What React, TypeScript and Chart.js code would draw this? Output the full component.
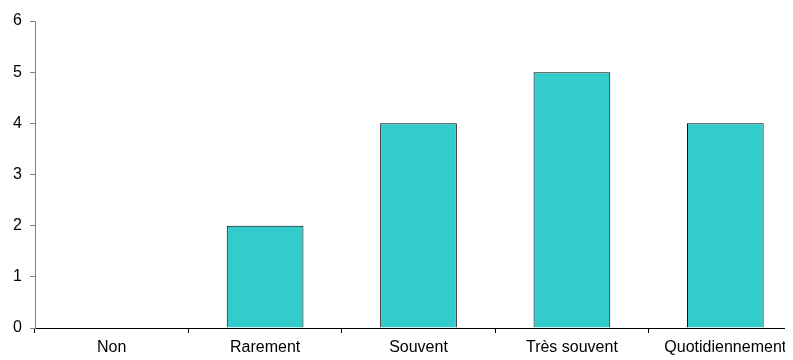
import React, { useEffect, useRef } from "react";
import { Chart, registerables } from "chart.js";

Chart.register(...registerables);

const categories = ["Non", "Rarement", "Souvent", "Très souvent", "Quotidiennement"];
const values = [0, 2, 4, 5, 4];
const yTicks = [0, 1, 2, 3, 4, 5, 6];

export default function App() {
  const ref = useRef<HTMLCanvasElement | null>(null);
  useEffect(() => {
    if (!ref.current) return;
    const font = { family: "'Liberation Sans', Arial, sans-serif", size: 16 };
    const chart = new Chart(ref.current, {
      type: "bar",
      data: {
        labels: categories,
        datasets: [
          {
            data: values,
            backgroundColor: "#33CCCC",
            borderColor: "#000000",
            borderWidth: 1,
            barPercentage: 0.5,
            categoryPercentage: 1,
          },
        ],
      },
      options: {
        responsive: false,
        animation: false,
        layout: { padding: { top: 13, right: 1, left: 0, bottom: 0 } },
        plugins: { legend: { display: false }, tooltip: { enabled: false } },
        scales: {
          x: {
            offset: true,
            grid: {
              offset: true,
              drawOnChartArea: false,
              tickLength: 5,
              color: "#000000",
            },
            border: { color: "#000000", width: 1 },
            ticks: { color: "#000000", font, padding: 5, maxRotation: 0, autoSkip: false },
            afterFit: (s: any) => {
              s.height = 32;
              s.paddingLeft = 0;
              s.paddingRight = 0;
            },
          },
          y: {
            min: 0,
            max: 6,
            afterBuildTicks: (s: any) => {
              s.ticks = yTicks.map((v) => ({ value: v }));
            },
            grid: {
              drawOnChartArea: false,
              tickLength: 5,
              color: "#808080",
            },
            border: { color: "#808080", width: 1 },
            ticks: { color: "#000000", font, padding: 8 },
            afterFit: (s: any) => {
              s.width = 27;
              s.paddingTop = 0;
              s.paddingBottom = 0;
            },
          },
        },
      },
    });
    return () => chart.destroy();
  }, []);
  return (
    <div style={{ width: 785, height: 352, overflow: "hidden" }}>
      <canvas ref={ref} width={795} height={352} style={{ display: "block" }} />
    </div>
  );
}
